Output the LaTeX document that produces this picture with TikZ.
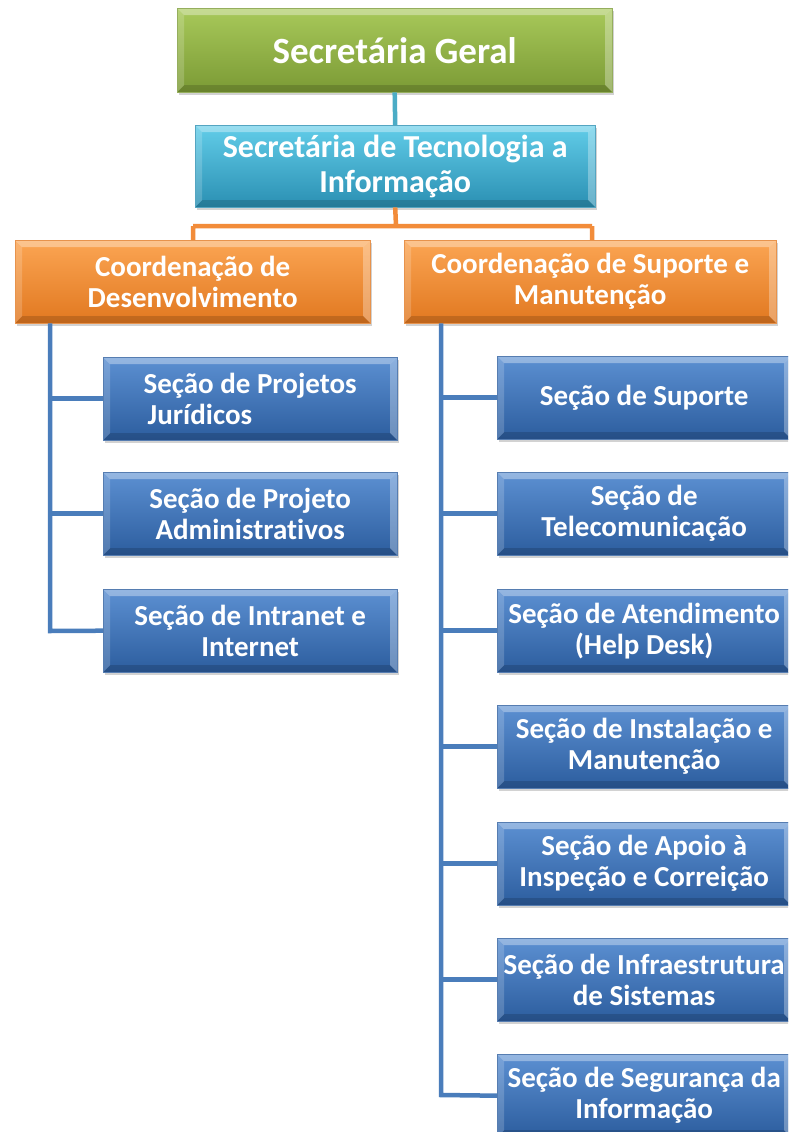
\documentclass[tikz,border=0pt]{standalone}
\usepackage{fontspec}
\setmainfont{Carlito}[Ligatures=NoCommon]
\usetikzlibrary{shadows}
\definecolor{gtop}{HTML}{A8C95A}\definecolor{gbot}{HTML}{7B9A35}
\definecolor{ctop}{HTML}{62CDE9}\definecolor{cbot}{HTML}{2A8FB2}
\definecolor{otop}{HTML}{FBA553}\definecolor{obot}{HTML}{E17820}
\definecolor{btop}{HTML}{5C90D2}\definecolor{bbot}{HTML}{2C5D9E}
\definecolor{lcyan}{HTML}{4BACC6}\definecolor{lorange}{HTML}{F28C3A}\definecolor{lblue}{HTML}{4A7DBB}
\tikzset{
 bevel/.style={path picture={
  \coordinate (pnw) at (path picture bounding box.north west);
  \coordinate (pse) at (path picture bounding box.south east);
  \coordinate (pne) at (path picture bounding box.north east);
  \coordinate (psw) at (path picture bounding box.south west);
  \fill[white,opacity=.35] (pnw) -- (pne) -- ([xshift=-7pt,yshift=-7pt]pne) -- ([xshift=7pt,yshift=-7pt]pnw) -- cycle;
  \fill[white,opacity=.18] (pnw) -- (psw) -- ([xshift=7pt,yshift=7pt]psw) -- ([xshift=7pt,yshift=-7pt]pnw) -- cycle;
  \fill[white,opacity=.30] (pne) -- (pse) -- ([xshift=-7pt,yshift=7pt]pse) -- ([xshift=-7pt,yshift=-7pt]pne) -- cycle;
  \fill[black,opacity=.15] (psw) -- (pse) -- ([xshift=-7pt,yshift=7pt]pse) -- ([xshift=7pt,yshift=7pt]psw) -- cycle;
 }},
 box/.style={rectangle, inner sep=0pt, anchor=north west, align=center,
   text=white, font=\bfseries\fontsize{29}{31}\selectfont, bevel,
   drop shadow={shadow xshift=2pt, shadow yshift=-3pt, opacity=.35}},
 gbox/.style={box, top color=gtop, bottom color=gbot, draw=gbot!80!white},
 cbox/.style={box, top color=ctop, bottom color=cbot, draw=cbot!80!white},
 obox/.style={box, top color=otop, bottom color=obot, draw=obot!80!white},
 bbox/.style={box, top color=btop, bottom color=bbot, draw=bbot!80!white,
   minimum width=294pt, minimum height=83pt},
 lnk/.style={line width=4.5pt},
}
\begin{document}
\begin{tikzpicture}[x=1pt,y=-1pt]
\clip (0,0) rectangle (788,1132);
\fill[white] (0,0) rectangle (788,1132);
\coordinate (jo) at (396,226);
\coordinate (jl) at (193,226);
\coordinate (jr) at (592,226);
\coordinate (tl) at (50,631);
\coordinate (tr) at (441,1095);
% boxes
\node[gbox, minimum width=435pt, minimum height=84pt, font=\bfseries\fontsize{37}{40}\selectfont] (sg) at (177,8) {Secretária Geral};
\node[cbox, minimum width=400pt, minimum height=82pt, font=\bfseries\fontsize{32}{35}\selectfont] (sti) at (195,125) {Secretária de Tecnologia a\\Informação};
\node[obox, minimum width=355pt, minimum height=83pt] (cd) at (15,240) {Coordenação de\\Desenvolvimento};
\node[obox, minimum width=372pt, minimum height=83pt] (cs) at (404,240) {Coordenação de Suporte e\\Manutenção};
\node[bbox] (l1) at (103,357) {Seção de Projetos\\\makebox[215pt][l]{\hspace{5pt}Jurídicos}};
\node[bbox] (l2) at (103,472) {Seção de Projeto\\Administrativos};
\node[bbox] (l3) at (103,589) {Seção de Intranet e\\Internet};
\node[bbox] (r1) at (497,356) {Seção de Suporte};
\node[bbox] (r2) at (497,472) {Seção de\\Telecomunicação};
\node[bbox] (r3) at (497,589) {Seção de Atendimento\\(Help Desk)};
\node[bbox] (r4) at (497,705) {Seção de Instalação e\\Manutenção};
\node[bbox] (r5) at (497,822) {Seção de Apoio à\\Inspeção e Correição};
\node[bbox] (r6) at (497,938) {Seção de Infraestrutura\\de Sistemas};
\node[bbox] (r7) at (497,1054) {Seção de Segurança da\\Informação};
% links
\draw[lnk, lcyan] (sg.south) -- (sti.north);
\draw[lnk, lorange] (sti.south) -- (jo) (jl) -- (jr) (jl) -- (jl |- cd.north) (jr) -- (jr |- cs.north);
\draw[lnk, lblue, line join=miter] (cd.south -| tl) -- (tl) -- (l3.west);
\draw[lnk, lblue] (tl |- l1.west) -- (l1.west) (tl |- l2.west) -- (l2.west);
\draw[lnk, lblue, line join=miter] (cs.south -| tr) -- (tr) -- (r7.west);
\foreach \n in {r1,r2,r3,r4,r5,r6} \draw[lnk, lblue] (tr |- \n.west) -- (\n.west);
\end{tikzpicture}
\end{document}
